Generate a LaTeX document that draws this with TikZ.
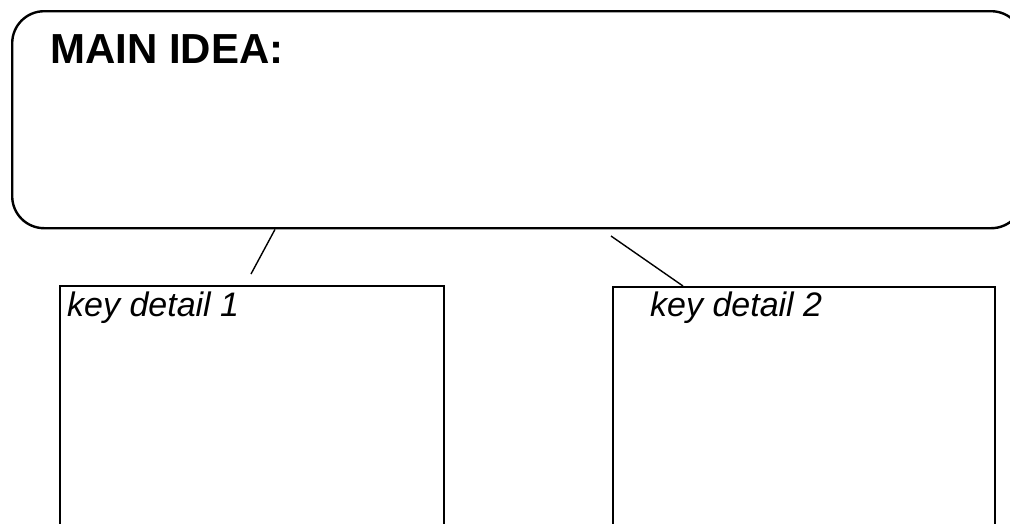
\documentclass[tikz,border=0pt]{standalone}
\usepackage{fontspec}
\setmainfont{Liberation Sans}
\begin{document}
\begin{tikzpicture}[x=1pt,y=-1pt,
  frame/.style={draw=black, line width=2.4pt, inner sep=0pt, anchor=north west},
  bubble/.style={frame, rounded corners=32pt},
  link/.style={draw=black, line width=1.4pt},
  heading/.style={anchor=base west, inner sep=0pt, font=\fontsize{42}{50}\selectfont\bfseries},
  detail/.style={anchor=base west, inner sep=0pt, font=\fontsize{34}{40}\selectfont\itshape}]
  \useasboundingbox (0,0) rectangle (1010,523);
  \fill[white] (0,0) rectangle (1010,523);
  \clip (0,0) rectangle (1010,523);

  % main idea bubble and its heading
  \node[bubble, minimum width=1011pt, minimum height=217pt] (main) at (11,10) {};
  \node[heading] (title) at (50,63) {MAIN IDEA:};

  % the two detail boxes
  \node[frame, minimum width=384pt, minimum height=260pt] (box1) at (59,285) {};
  \node[frame, minimum width=382pt, minimum height=260pt] (box2) at (612,286) {};
  \node[detail] (label1) at (67,316) {key detail 1};
  \node[detail] (label2) at (650,316) {key detail 2};

  % connectors
  \coordinate (end1) at (251,274);
  \coordinate (start2) at (611,236);
  \draw[link] ([xshift=264pt]main.south west) -- (end1);
  \draw[link] (start2) -- ([xshift=71pt]box2.north west);
\end{tikzpicture}
\end{document}
